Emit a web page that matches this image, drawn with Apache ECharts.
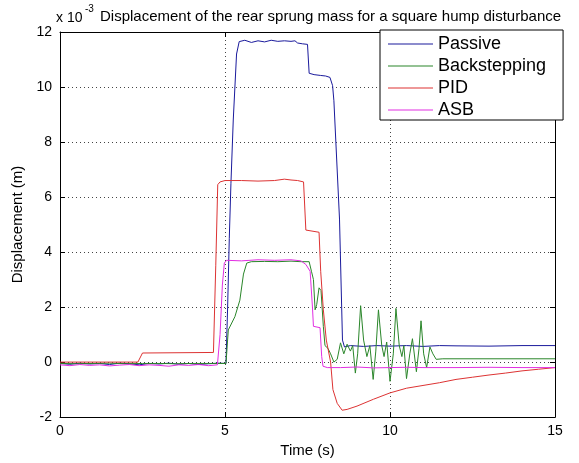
<!DOCTYPE html>
<html>
<head>
<meta charset="utf-8">
<script src="https://cdn.jsdelivr.net/npm/echarts@6/dist/echarts.min.js"></script>
<style>
html,body{margin:0;padding:0;background:#fff;}
#c{width:579px;height:463px;}
</style>
</head>
<body>
<div id="c"></div>
<script>
var FONT = "'Liberation Sans', Arial, sans-serif";

var seriesNames = ['Passive', 'Backstepping', 'PID', 'ASB'];
var xTicks = [0, 5, 10, 15];
var yTicks = [-2, 0, 2, 4, 6, 8, 10, 12];

var passiveT = [0, 0.3, 0.6, 0.9, 1.2, 1.5, 1.8, 2.1, 2.4, 2.7, 3.0, 3.3, 3.6, 3.9, 4.2, 4.5, 4.8, 5.03, 5.08, 5.13, 5.18, 5.25, 5.35, 5.43, 5.6, 5.8, 6.0, 6.2, 6.4, 6.6, 6.8, 7.0, 7.12, 7.2, 7.35, 7.5, 7.55, 7.7, 7.9, 8.05, 8.18, 8.26, 8.3, 8.47, 8.56, 8.62, 8.8, 9.2, 9.6, 10.0, 10.5, 11, 11.5, 12, 13, 14, 15];
var passiveV = [-0.05, -0.08, -0.04, -0.07, -0.05, -0.09, -0.04, -0.06, -0.1, -0.05, -0.07, -0.04, -0.08, -0.05, -0.09, -0.06, -0.04, -0.05, 2.0, 4.5, 6.5, 8.8, 11.2, 11.65, 11.7, 11.62, 11.68, 11.64, 11.7, 11.66, 11.68, 11.66, 11.68, 11.6, 11.57, 11.55, 10.5, 10.45, 10.42, 10.4, 10.35, 10.05, 9.5, 5.2, 0.8, 0.55, 0.6, 0.57, 0.6, 0.58, 0.6, 0.57, 0.6, 0.59, 0.58, 0.6, 0.6];

var backT = [0, 0.5, 1.0, 1.5, 2.0, 2.5, 3.0, 3.5, 4.0, 4.5, 5.03, 5.1, 5.3, 5.45, 5.56, 5.66, 5.8, 6.2, 6.6, 7.0, 7.3, 7.55, 7.62, 7.68, 7.73, 7.78, 7.85, 7.91, 7.98, 8.03, 8.12, 8.2, 8.3, 8.4, 8.5, 8.6, 8.7, 8.8, 8.87, 8.95, 9.02, 9.11, 9.2, 9.3, 9.39, 9.49, 9.57, 9.65, 9.75, 9.82, 9.9, 10.0, 10.1, 10.18, 10.28, 10.36, 10.42, 10.5, 10.6, 10.68, 10.8, 10.88, 10.94, 11.02, 11.11, 11.21, 11.3, 11.4, 11.6, 12, 13, 14, 15];
var backV = [-0.05, -0.06, -0.05, -0.04, -0.06, -0.05, -0.05, -0.06, -0.05, -0.05, -0.05, 1.17, 1.65, 2.25, 3.2, 3.6, 3.65, 3.66, 3.65, 3.67, 3.65, 3.65, 3.3, 3.0, 1.9, 2.1, 2.7, 2.6, 1.3, 0.6, 0.5, 0.3, 0.0, 0.1, 0.7, 0.3, 0.65, 0.4, 0.6, -0.4, 0.3, 2.05, 0.8, 0.2, 0.6, -0.63, 0.4, 1.9, 0.6, 0.2, 0.73, -0.7, 0.3, 1.95, 0.6, 0.2, 0.6, -0.6, 0.3, 0.85, -0.35, 0.5, 1.5, 0.3, -0.2, 0.55, 0.3, 0.1, 0.12, 0.12, 0.12, 0.12, 0.12];

var pidT = [0, 2.36, 2.5, 4.65, 4.72, 4.78, 4.85, 5.0, 5.5, 6.0, 6.5, 6.8, 7.0, 7.2, 7.38, 7.45, 7.85, 7.9, 7.98, 8.07, 8.2, 8.27, 8.4, 8.55, 8.7, 9.0, 9.5, 10, 10.5, 11, 11.5, 12, 12.5, 13, 13.5, 14, 14.5, 15];
var pidV = [0, 0, 0.33, 0.35, 3.5, 6.45, 6.55, 6.6, 6.6, 6.58, 6.6, 6.65, 6.62, 6.6, 6.55, 4.8, 4.72, 3.3, 1.9, 0.8, 0.0, -1.0, -1.5, -1.75, -1.72, -1.6, -1.35, -1.12, -0.95, -0.85, -0.75, -0.63, -0.55, -0.47, -0.4, -0.32, -0.26, -0.2];

var asbT = [0, 0.3, 0.6, 0.9, 1.2, 1.5, 1.8, 2.1, 2.4, 2.7, 3.0, 3.3, 3.6, 3.9, 4.2, 4.5, 4.77, 4.85, 4.92, 4.98, 5.05, 5.5, 6.0, 6.5, 7.0, 7.3, 7.45, 7.58, 7.65, 7.68, 7.88, 7.93, 7.97, 8.1, 8.5, 9, 9.5, 10, 10.5, 11, 12, 13, 14, 15];
var asbV = [-0.1, -0.13, -0.09, -0.12, -0.1, -0.14, -0.11, -0.09, -0.13, -0.1, -0.12, -0.15, -0.1, -0.12, -0.09, -0.13, -0.1, 1.0, 2.8, 3.6, 3.7, 3.68, 3.72, 3.7, 3.72, 3.68, 3.55, 3.3, 2.0, 1.3, 1.25, 0.2, -0.15, -0.2, -0.2, -0.18, -0.21, -0.2, -0.19, -0.2, -0.2, -0.19, -0.2, -0.2];

var colors = ['#1a1a9c', '#2a862a', '#dd3333', '#e22ee2'];

function pairs(t, v) { return t.map(function (x, i) { return [x, v[i]]; }); }
var allData = [pairs(passiveT, passiveV), pairs(backT, backV), pairs(pidT, pidV), pairs(asbT, asbV)];

var chart = echarts.init(document.getElementById('c'), null, { renderer: 'canvas' });

var gridLine = { show: true, lineStyle: { color: '#444', width: 1, type: [1, 3] } };
var axisLineStyle = { show: true, onZero: false, lineStyle: { color: '#000', width: 1 } };

chart.setOption({
  animation: false,
  backgroundColor: '#fff',
  textStyle: { fontFamily: FONT },
  title: {
    text: 'Displacement of the rear sprung mass for a square hump disturbance',
    left: 95, top: 4,
    textStyle: { fontSize: 15, fontWeight: 'normal', color: '#000', fontFamily: FONT }
  },
  graphic: [
    { type: 'text', left: 56, top: 11, style: { text: 'x 10', fontSize: 14, fill: '#000', fontFamily: FONT } },
    { type: 'text', left: 85, top: 4, style: { text: '-3', fontSize: 10, fill: '#000', fontFamily: FONT } }
  ],
  grid: { left: 60, right: 24, top: 32, bottom: 45, containLabel: false },
  legend: {
    data: seriesNames,
    orient: 'vertical',
    left: 380, top: 30,
    padding: [5, 17, 1, 8],
    itemGap: 4,
    itemWidth: 45,
    itemHeight: 1,
    icon: 'rect',
    backgroundColor: '#fff',
    borderColor: '#000',
    borderWidth: 1,
    textStyle: { fontSize: 18, lineHeight: 18, color: '#000', fontFamily: FONT }
  },
  xAxis: [{
    type: 'value', min: xTicks[0], max: xTicks[xTicks.length - 1], interval: 5,
    name: 'Time (s)', nameLocation: 'middle', nameGap: 22,
    nameTextStyle: { fontSize: 15, color: '#000', fontFamily: FONT },
    axisLine: axisLineStyle,
    axisTick: { show: true, inside: true, length: 5, lineStyle: { color: '#000' } },
    axisLabel: { fontSize: 14, color: '#000', margin: 7, fontFamily: FONT },
    splitLine: gridLine
  }, {
    type: 'value', position: 'top', min: 0, max: 15, interval: 5,
    axisLine: axisLineStyle,
    axisTick: { show: true, inside: true, length: 5, lineStyle: { color: '#000' } },
    axisLabel: { show: false }, splitLine: { show: false }
  }],
  yAxis: [{
    type: 'value', min: yTicks[0], max: yTicks[yTicks.length - 1], interval: 2,
    name: 'Displacement (m)', nameLocation: 'middle', nameGap: 29, nameRotate: 90,
    nameTextStyle: { fontSize: 15, color: '#000', fontFamily: FONT },
    axisLine: axisLineStyle,
    axisTick: { show: true, inside: true, length: 5, lineStyle: { color: '#000' } },
    axisLabel: { fontSize: 14, color: '#000', margin: 8, fontFamily: FONT },
    splitLine: gridLine
  }, {
    type: 'value', position: 'right', min: -2, max: 12, interval: 2,
    axisLine: axisLineStyle,
    axisTick: { show: true, inside: true, length: 5, lineStyle: { color: '#000' } },
    axisLabel: { show: false }, splitLine: { show: false }
  }],
  series: seriesNames.map(function (n, i) {
    return {
      name: n, type: 'line', data: allData[i],
      xAxisIndex: 0, yAxisIndex: 0,
      showSymbol: false, symbol: 'none',
      color: colors[i],
      lineStyle: { width: 1, color: colors[i] },
      z: 2 + i
    };
  })
});
</script>
</body>
</html>
